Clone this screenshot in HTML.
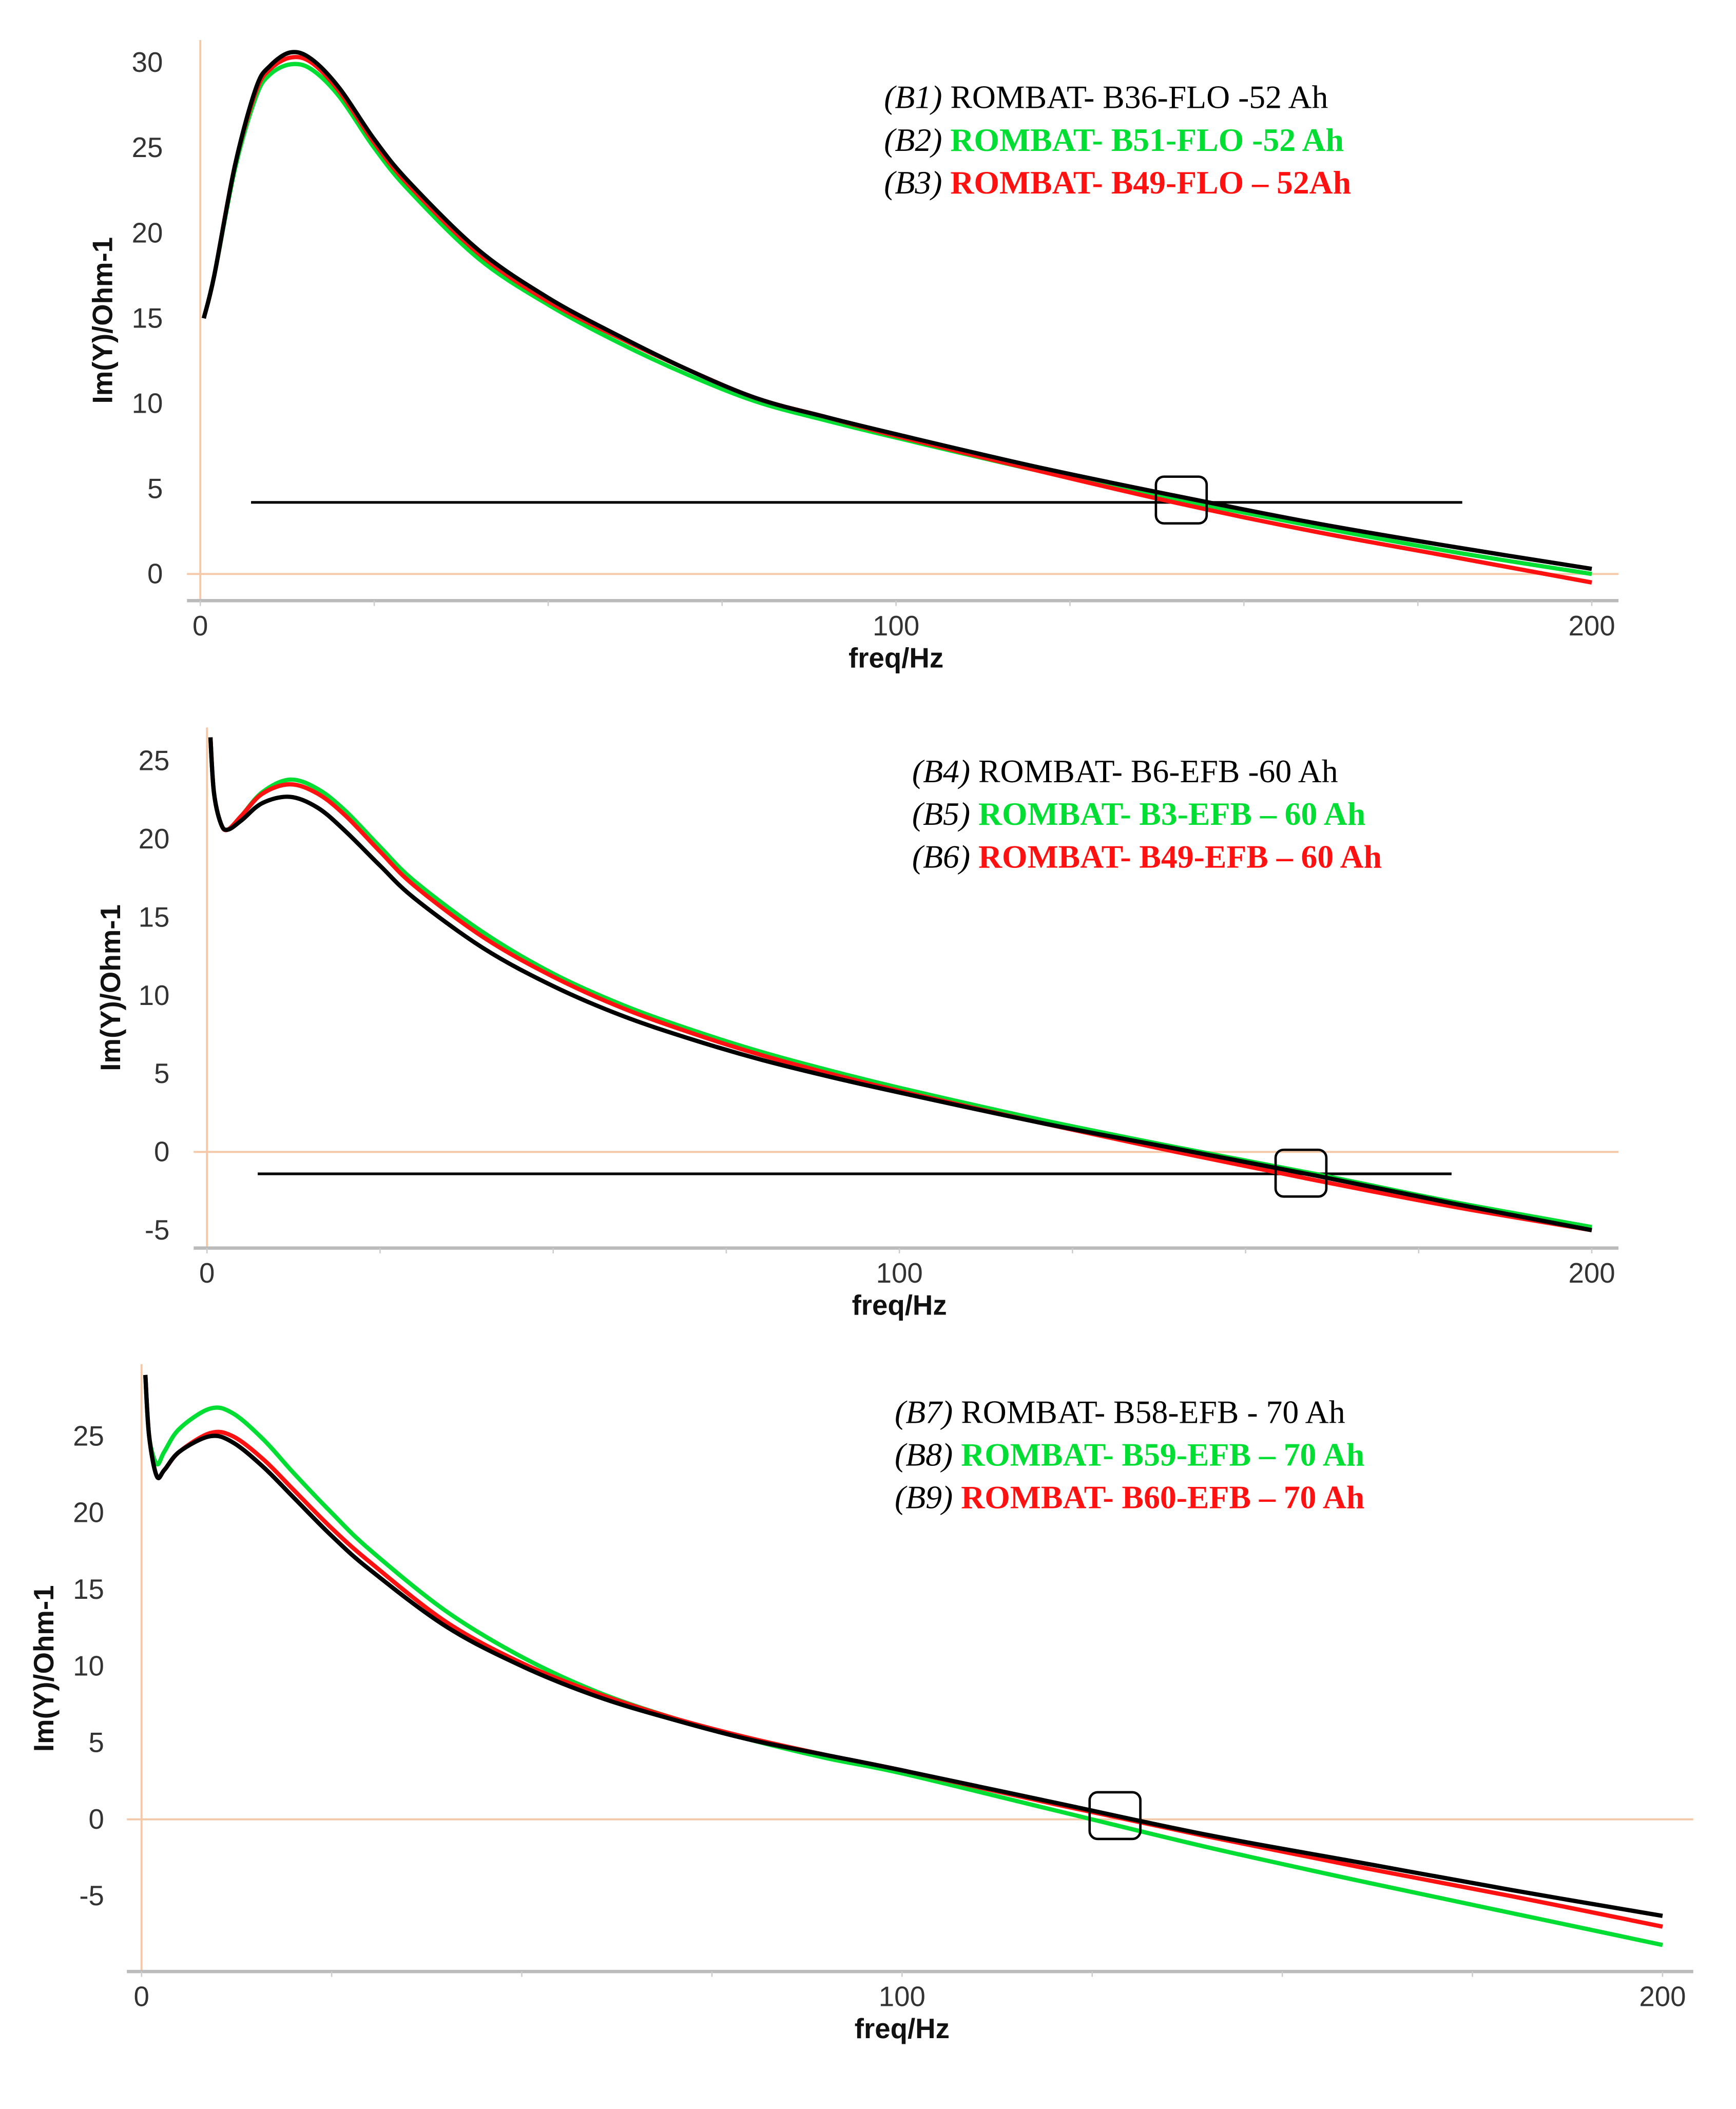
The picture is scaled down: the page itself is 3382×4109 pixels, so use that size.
<!DOCTYPE html>
<html><head><meta charset="utf-8"><style>
html,body{margin:0;padding:0;background:#fff;}
svg{display:block;}
.tk{font-family:"Liberation Sans",sans-serif;font-size:21px;fill:#333;}
.ax{font-family:"Liberation Sans",sans-serif;font-size:21px;font-weight:bold;fill:#111;}
.lg{font-family:"Liberation Serif",serif;font-size:24.5px;}
</style></head><body>
<svg id="fig" width="3382" height="4109" viewBox="0 0 1300 1580" preserveAspectRatio="none" xmlns="http://www.w3.org/2000/svg"></svg>
<script>
// ---- data ----
const freq1 = [0.5,2,5,8,10,13,16,20,25,30,40,50,60,70,80,90,100,120,140,160,180,200];
const b1 = [15,17.5,24,28.5,29.8,30.6,30.2,28.5,25.5,23,19,16.2,14,12,10.3,9.2,8.2,6.3,4.6,3.0,1.6,0.3];
const b2 = [15,17.5,23.8,28,29.3,29.9,29.6,28,25,22.5,18.5,15.8,13.6,11.7,10.1,9.0,8.0,6.1,4.4,2.8,1.3,0.0];
const b3 = [15,17.5,24,28.3,29.6,30.3,30.0,28.3,25.3,22.8,18.8,16.0,13.9,12.0,10.3,9.2,8.1,6.1,4.2,2.5,1.0,-0.5];
const freq2 = [0.5,1,2,3,5,8,12,16,20,25,30,40,50,60,70,80,90,100,120,140,160,180,200];
const b4 = [26.5,23,21,20.6,21.2,22.3,22.7,22.0,20.5,18.3,16.2,13.0,10.6,8.7,7.2,5.9,4.8,3.8,1.9,0.2,-1.5,-3.3,-5.0];
const b5 = [26.5,23,21,20.6,21.5,23,23.8,23.2,21.8,19.5,17.3,14.0,11.4,9.4,7.8,6.4,5.2,4.1,2.1,0.3,-1.4,-3.2,-4.8];
const b6 = [26.5,23,21,20.6,21.5,22.9,23.5,22.9,21.5,19.2,17.0,13.7,11.2,9.2,7.6,6.2,5.0,3.9,1.9,0.0,-1.8,-3.5,-5.0];
const freq3 = [0.5,1,2,3,5,9,12,16,20,25,30,40,50,60,70,80,90,100,120,140,160,180,200];
const b7 = [29,25,22.4,22.8,24,25,24.6,23,21,18.5,16.3,12.6,10.0,8.0,6.5,5.2,4.2,3.2,1.1,-1.0,-2.8,-4.6,-6.3];
const b8 = [29,25,23.2,24,25.5,26.8,26.5,24.8,22.6,20,17.6,13.6,10.6,8.3,6.6,5.2,4.0,3.0,0.6,-1.8,-4.0,-6.1,-8.2];
const b9 = [29,25,22.4,22.8,24,25.2,25.0,23.5,21.5,19,16.8,12.9,10.2,8.2,6.6,5.3,4.2,3.2,1.0,-1.1,-3.1,-5.0,-7.0];
const xTicks = [0,100,200];
const yTicks1 = [0,5,10,15,20,25,30];
const yTicks2 = [-5,0,5,10,15,20,25];
const yTicks3 = [-5,0,5,10,15,20,25];
const refLevel1 = 4.2, refLevel2 = -1.4;
const cross1 = [141,4.3], cross2 = [158,-1.4], cross3 = [128,0.2];
const legend1 = [["(B1)","ROMBAT- B36-FLO -52 Ah"],["(B2)","ROMBAT- B51-FLO -52 Ah"],["(B3)","ROMBAT- B49-FLO – 52Ah"]];
const legend2 = [["(B4)","ROMBAT- B6-EFB -60 Ah"],["(B5)","ROMBAT- B3-EFB – 60 Ah"],["(B6)","ROMBAT- B49-EFB – 60 Ah"]];
const legend3 = [["(B7)","ROMBAT- B58-EFB - 70 Ah"],["(B8)","ROMBAT- B59-EFB – 70 Ah"],["(B9)","ROMBAT- B60-EFB – 70 Ah"]];

const NS="http://www.w3.org/2000/svg";
const svg=document.getElementById('fig');
function mk(tag,attrs,parent){const e=document.createElementNS(NS,tag);for(const k in attrs)e.setAttribute(k,attrs[k]);(parent||svg).appendChild(e);return e;}
function pathD(xs,ys,sx,sy){
  const p=xs.map((x,i)=>[sx(x),sy(ys[i])]);let d=`M${p[0][0]},${p[0][1]}`;
  for(let i=0;i<p.length-1;i++){const p0=p[i-1]||p[i],p1=p[i],p2=p[i+1],p3=p[i+2]||p2;
    d+=` C${p1[0]+(p2[0]-p0[0])/6},${p1[1]+(p2[1]-p0[1])/6} ${p2[0]-(p3[0]-p1[0])/6},${p2[1]-(p3[1]-p1[1])/6} ${p2[0]},${p2[1]}`;}
  return d;}
function chart(c){
  const g=mk('g',{});
  
  
  const sx=f=>c.x0+f*(c.x200-c.x0)/200, sy=v=>c.yz-v*c.pu;
  const za=mk('line',{x1:sx(0),x2:sx(0),y1:c.top,y2:c.bot,stroke:'#f5c9a8','stroke-width':1.5},g);
  
  const zh=mk('line',{x1:c.axL,x2:c.axR,y1:sy(0),y2:sy(0),stroke:'#f5c9a8','stroke-width':1.5},g);
  
  const bx=mk('line',{x1:c.axL,x2:c.axR,y1:c.bot,y2:c.bot,stroke:'#bbb','stroke-width':2.5},g);
  
  for(let f=0;f<=200;f+=25){mk('line',{x1:sx(f),x2:sx(f),y1:c.bot,y2:c.bot+4,stroke:'#ccc','stroke-width':1},g);}
  xTicks.forEach(t=>{const e=mk('text',{x:sx(t),y:c.bot+26,'text-anchor':'middle',class:'tk'},g);e.textContent=t;
    });
  c.yt.forEach(t=>{const e=mk('text',{x:c.x0-28,y:sy(t)+7,'text-anchor':'end',class:'tk'},g);e.textContent=t;
    });
  const xt=mk('text',{x:sx(100),y:c.bot+50,'text-anchor':'middle',class:'ax'},g);xt.textContent='freq/Hz';
  
  const yt=mk('text',{x:0,y:0,'text-anchor':'middle',class:'ax',transform:`translate(${c.ylx},${c.yly}) rotate(-90)`},g);yt.textContent='Im(Y)/Ohm-1';
  
  if(c.ref!==undefined){const r=mk('line',{x1:c.refL,x2:c.refR,y1:sy(c.ref),y2:sy(c.ref),stroke:'#000','stroke-width':2},g);
    }
  const cols=['#00dd33','#ff1111','#000'];
  const ord=[c.s[1],c.s[2],c.s[0]];
  const names=['series-green','series-red','series-black'];
  ord.forEach((ys,i)=>{const p=mk('path',{d:pathD(c.f,ys,sx,sy),fill:'none',stroke:cols[i],'stroke-width':3.2,'stroke-linejoin':'round'},g);
    });
  const bxx=mk('rect',{x:sx(c.cross[0])-19,y:sy(c.cross[1])-18,width:38,height:35,rx:6,fill:'none',stroke:'#000','stroke-width':1.8},g);
  
  const lc=['#000','#00dd33','#ff1111'];
  c.leg.forEach((L,i)=>{const t=mk('text',{x:c.lx,y:c.ly+i*32,class:'lg'},g);
    
    const a=mk('tspan',{'font-style':'italic',fill:'#000'},t);a.textContent=L[0]+' ';
    const b=mk('tspan',{fill:lc[i],'font-weight':i?'bold':'normal'},t);b.textContent=L[1];});
}
chart({name:'chart-flo-52ah',f:freq1,s:[b1,b2,b3],yt:yTicks1,x0:150,x200:1192,yz:430,pu:12.77,top:30,bot:450,axL:140,axR:1212,ylx:84,yly:240,ref:refLevel1,refL:188,refR:1095,cross:cross1,leg:legend1,lx:662,ly:81});
chart({name:'chart-efb-60ah',f:freq2,s:[b4,b5,b6],yt:yTicks2,x0:155,x200:1192,yz:863,pu:11.72,top:545,bot:935,axL:145,axR:1212,ylx:90,yly:740,ref:refLevel2,refL:193,refR:1087,cross:cross2,leg:legend2,lx:683,ly:586});
chart({name:'chart-efb-70ah',f:freq3,s:[b7,b8,b9],yt:yTicks3,x0:106,x200:1245,yz:1363,pu:11.48,top:1022,bot:1477,axL:95,axR:1268,ylx:40,yly:1250,cross:cross3,leg:legend3,lx:670,ly:1066});
</script>
</body></html>
